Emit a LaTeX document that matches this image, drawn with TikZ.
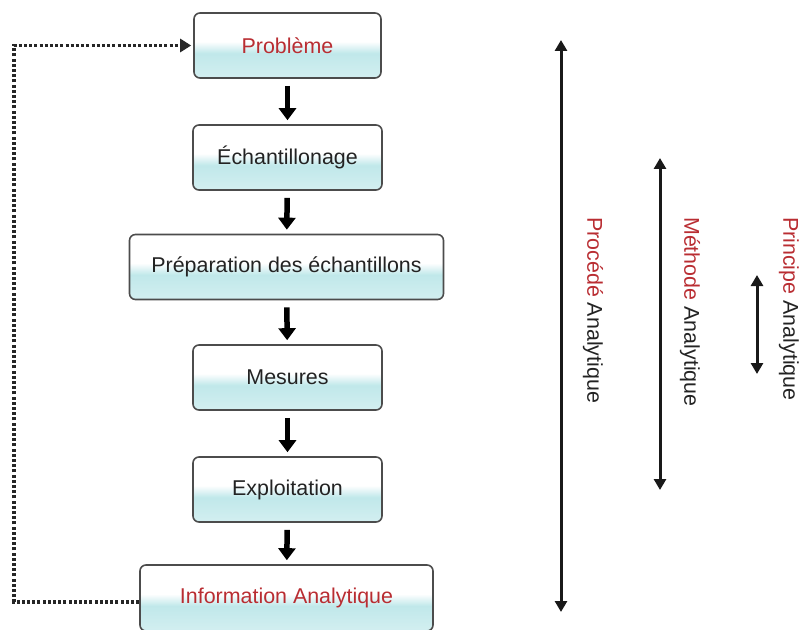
\documentclass[tikz,border=0pt]{standalone}
\usepackage{fontspec}
\setmainfont{Liberation Sans}
\usetikzlibrary{arrows.meta}
\definecolor{redtxt}{RGB}{185,45,50}
\definecolor{darktxt}{RGB}{35,35,35}
\definecolor{boxcyan}{RGB}{192,232,234}
\pgfdeclareverticalshading{boxshade}{100bp}{color(0bp)=(boxcyan!70!white); color(25bp)=(boxcyan!70!white); color(44bp)=(boxcyan); color(53bp)=(white); color(100bp)=(white)}
\begin{document}
\begin{tikzpicture}[x=1bp,y=-1bp,
  box/.style={draw=black!70, line width=1.6bp, rounded corners=6bp, shading=boxshade, shading angle=0,
    minimum height=65bp, inner sep=0pt, font=\fontsize{21.5}{24}\selectfont, text=darktxt},
  flow/.style={-{Triangle[length=12bp,width=17bp]}, line width=5.5bp, black, shorten <=7bp, shorten >=4bp},
  span/.style={{Triangle[length=11bp,width=12bp]}-{Triangle[length=11bp,width=12bp]}, line width=3bp, black!90},
  vlabel/.style={rotate=-90, anchor=west, inner sep=0pt, font=\fontsize{21.5}{24}\selectfont, text=darktxt},
  loop/.style={line width=3.2bp, dash pattern=on 3bp off 2.2bp, black!85, -{Triangle[length=11bp,width=13bp]}, shorten >=2bp}]
\useasboundingbox (0,0) rectangle (805,630);
\node[box, minimum width=187bp] (p1) at (287.5,45.5) {\textcolor{redtxt}{Problème}};
\node[box, minimum width=189bp] (p2) at (287.5,157.5) {Échantillonage};
\node[box, minimum width=314bp] (p3) at (286.5,267) {Préparation des échantillons};
\node[box, minimum width=189bp] (p4) at (287.5,377.5) {Mesures};
\node[box, minimum width=189bp] (p5) at (287.5,489.5) {Exploitation};
\node[box, minimum width=293bp, minimum height=66bp] (p6) at (286.5,598) {\textcolor{redtxt}{Information Analytique}};
\draw[flow] (p1) -- (p2);
\draw[flow] (p2) -- (p3);
\draw[flow] (p3) -- (p4);
\draw[flow] (p4) -- (p5);
\draw[flow] (p5) -- (p6);
\coordinate (lc) at (14,602);
\draw[loop] (p6.west |- lc) -- (lc) |- (p1.west);
\coordinate (a1) at (561,40);
\coordinate (a2) at (561,612);
\coordinate (b1) at (660,158);
\coordinate (b2) at (660,490);
\coordinate (c1) at (757,275);
\coordinate (c2) at (757,374);
\draw[span] (a1) -- (a2);
\draw[span] (b1) -- (b2);
\draw[span] (c1) -- (c2);
\node[vlabel] (l1) at (593,217) {\textcolor{redtxt}{Procédé} Analytique};
\node[vlabel] (l2) at (690,217) {\textcolor{redtxt}{Méthode} Analytique};
\node[vlabel] (l3) at (789,217) {\textcolor{redtxt}{Principe} Analytique};
\end{tikzpicture}
\end{document}
